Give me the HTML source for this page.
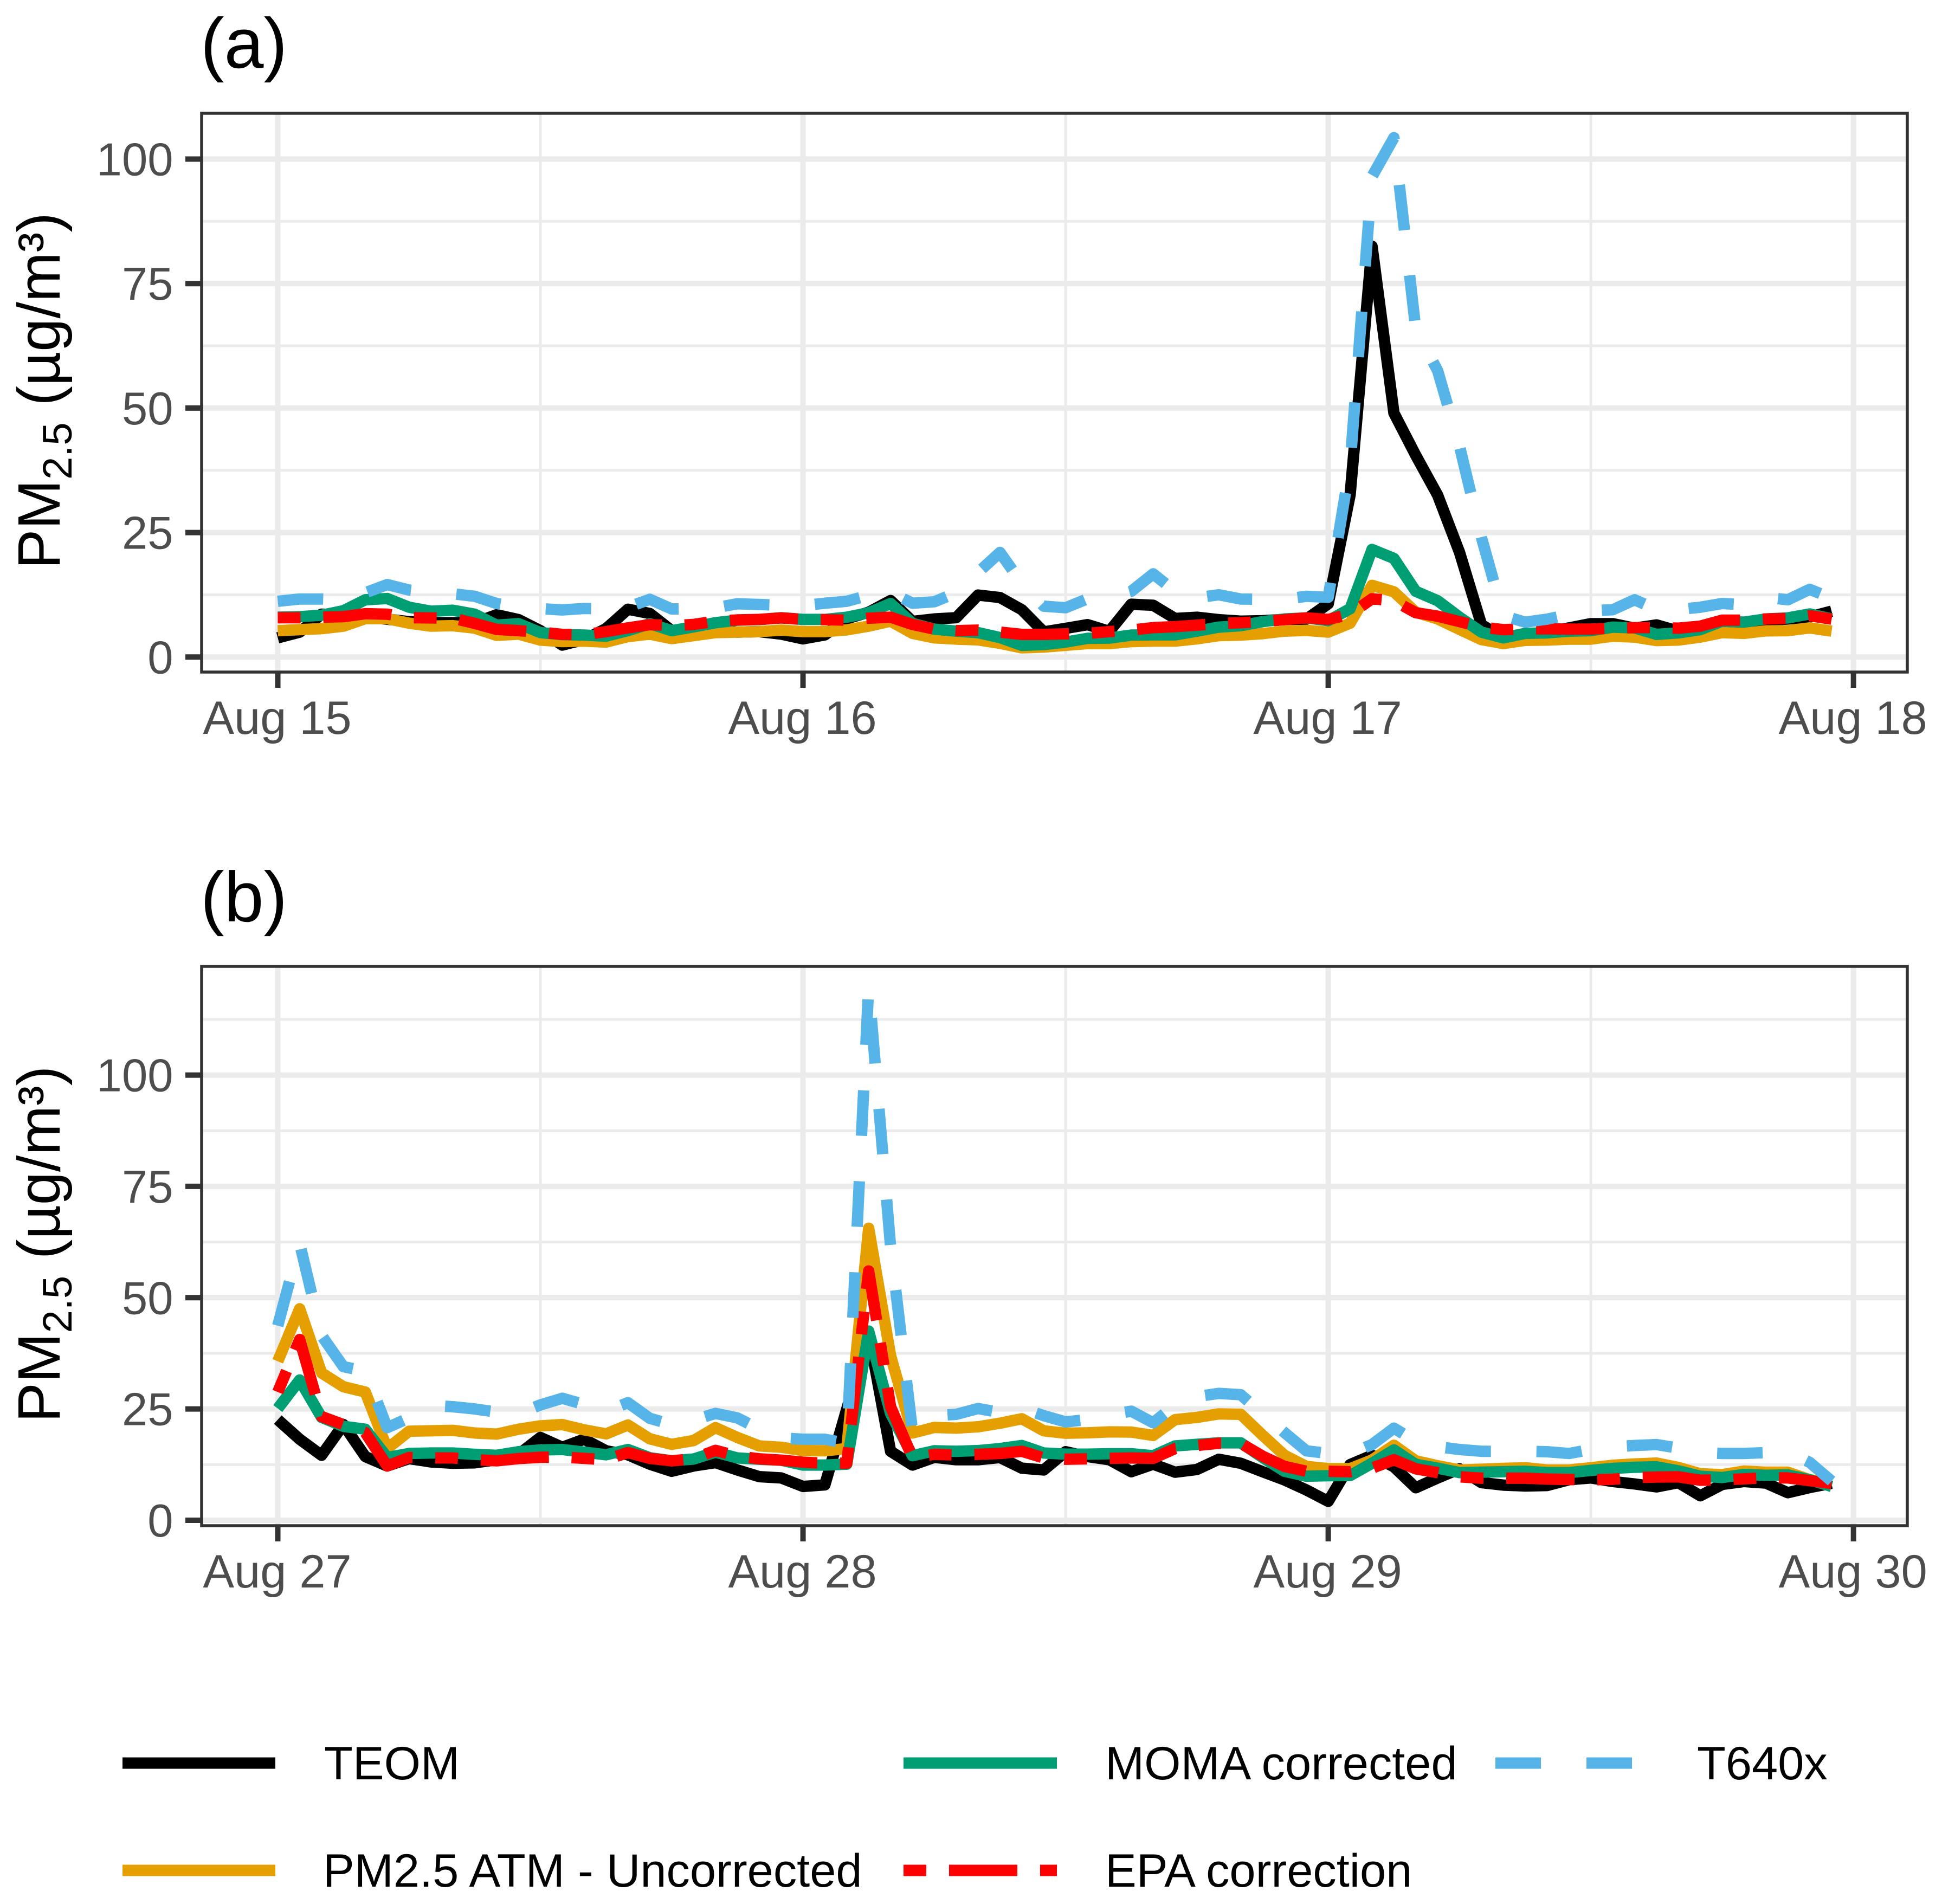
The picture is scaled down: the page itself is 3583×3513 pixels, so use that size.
<!DOCTYPE html>
<html lang="en">
<head>
<meta charset="utf-8">
<title>PM2.5 time series</title>
<style>
html,body{margin:0;padding:0;background:#fff;}
svg{display:block;font-family:"Liberation Sans",sans-serif;}
</style>
</head>
<body>
<svg id="chart" xmlns="http://www.w3.org/2000/svg" width="3583" height="3513" viewBox="0 0 3583 3513">
  <rect x="0" y="0" width="3583" height="3513" fill="#ffffff"/>
  <g id="panel-a"></g>
  <g id="panel-b"></g>

  <text x="370" y="125" font-size="131" fill="#000">(a)</text>
  <text x="370" y="1700" font-size="131" fill="#000">(b)</text>

  <text transform="translate(110,1050) rotate(-90)" font-size="110" fill="#000">PM<tspan font-size="76" dy="22">2.5</tspan><tspan dy="-22"> (µg/m³)</tspan></text>
  <text transform="translate(110,2624.5) rotate(-90)" font-size="110" fill="#000">PM<tspan font-size="76" dy="22">2.5</tspan><tspan dy="-22"> (µg/m³)</tspan></text>

  <g font-size="86.6" fill="#000">
    <line x1="226" x2="508" y1="3253" y2="3253" stroke="#000000" stroke-width="21"/>
    <text x="598" y="3283">TEOM</text>
    <line x1="226" x2="508" y1="3451" y2="3451" stroke="#E69F00" stroke-width="21"/>
    <text x="596" y="3481">PM2.5 ATM - Uncorrected</text>
    <line x1="1667" x2="1950" y1="3253" y2="3253" stroke="#009E73" stroke-width="21"/>
    <text x="2039" y="3283">MOMA corrected</text>
    <line x1="1667" x2="1950" y1="3451" y2="3451" stroke="#FF0000" stroke-width="21" stroke-dasharray="42 42 126 42"/>
    <text x="2039" y="3481">EPA correction</text>
    <line x1="2759" x2="3041" y1="3253" y2="3253" stroke="#56B4E9" stroke-width="21" stroke-dasharray="84 84"/>
    <text x="3131" y="3283">T640x</text>
  </g>
</svg>

<script>
// Shared categories and ticks
const dayLabelsA = ['Aug 15','Aug 16','Aug 17','Aug 18'];
const dayLabelsB = ['Aug 27','Aug 28','Aug 29','Aug 30'];
const majorHours = [0,24,48,72];
const minorHours = [12,36,60];
const yTickValues = [0,25,50,75,100];
const yTickLabels = ['0','25','50','75','100'];
const yMinorA = [12.5,37.5,62.5,87.5];
const yMinorB = [12.5,37.5,62.5,87.5,112.5];

// Panel (a) hourly values, Aug 15 00:00 to Aug 17 23:00
const teomA = [3.85,5.0,8.6,8.5,8.0,7.6,7.1,6.9,6.9,6.9,8.5,7.5,
5.3,2.4,3.5,5.7,9.6,8.75,5.3,5.5,5.3,5.0,5.1,4.6,
3.65,4.45,7.7,9.0,11.35,7.15,7.65,7.9,12.45,11.95,9.5,5.05,
5.75,6.5,5.15,10.6,10.4,7.75,8.0,7.5,7.2,7.3,7.55,7.6,
10.7,32.6,82.5,49,40.5,32.5,21,6.5,3.8,4.2,5.0,5.85,
6.7,6.7,5.8,6.45,5.2,5.6,6.3,6.5,7.3,7.65,8.05,9.2];
const atmA = [5.3,5.5,5.7,6.2,7.7,7.7,6.8,6.2,6.3,5.8,4.35,4.6,
3.4,3.1,3.2,3.0,4.1,4.6,3.7,4.3,4.9,5.0,5.1,5.4,
5.1,5.1,5.45,6.2,7.2,4.75,3.85,3.6,3.45,2.75,1.85,2.0,
2.35,2.7,2.7,3.1,3.2,3.2,3.65,4.3,4.4,4.7,5.2,5.35,
5.0,6.8,14.4,13.1,9.0,7.65,5.55,3.5,2.7,3.35,3.4,3.6,
3.6,4.2,4.0,3.3,3.4,4.0,4.9,4.75,5.25,5.3,5.85,5.2];
const momaA = [8.0,8.1,8.4,9.3,11.5,11.75,10.0,9.2,9.4,8.6,6.4,6.7,
4.9,4.5,4.4,4.2,5.3,6.7,5.3,6.05,6.9,7.4,7.5,7.9,
7.55,7.55,8.0,8.9,10.75,6.75,5.6,5.2,4.9,3.9,2.35,2.5,
3.0,3.75,3.8,4.4,4.45,4.45,5.2,6.0,6.3,7.1,7.65,7.85,
7.3,9.7,21.6,19.8,13.2,11.3,8.0,5.0,3.85,4.75,4.85,5.2,
5.3,6.0,5.85,4.55,4.85,5.5,7.2,7.0,7.65,7.85,8.65,7.65];
const epaA = [7.9,7.9,8.0,8.1,8.7,8.6,7.9,7.85,7.8,6.75,5.55,5.3,
5.0,4.55,4.5,5.1,5.85,6.5,6.3,6.55,7.2,7.45,7.55,7.85,
7.55,7.5,7.4,7.8,8.0,6.55,5.6,5.3,5.4,5.0,4.55,4.55,
4.65,4.75,5.1,5.4,5.9,6.1,6.4,6.75,6.9,7.1,7.5,7.85,
7.55,8.6,11.7,11.3,8.9,8.2,7.1,6.0,5.5,5.65,5.65,5.6,
5.6,5.8,5.9,5.9,5.8,6.2,7.4,7.4,7.65,7.75,8.3,7.6];
const t640A = [11.2,11.65,11.65,11.5,12.9,14.55,13.45,12.9,12.7,12.2,10.75,10.0,
9.7,9.45,9.75,9.7,10.0,11.6,9.65,9.7,9.9,10.7,10.55,10.4,
10.3,10.8,11.2,12.4,13.0,10.8,11.1,12.9,17,21.0,14.8,10.2,
9.9,11.7,12.0,13.2,16.7,13.2,11.9,12.5,11.65,11.6,11.6,12.2,
12.0,38.6,96.5,104.3,65.8,57.5,42.3,24,8.3,7.0,7.6,8.55,
9.3,9.5,11.5,9.55,9.55,10,10.75,10.5,12.0,11.5,13.6,11.8];

// Panel (b) hourly values, Aug 27 00:00 to Aug 29 23:00
const teomB = [22.6,18.2,14.6,21.5,14.3,12.2,13.85,13.1,12.8,12.9,13.6,14.8,
18.6,16.4,18.2,15.6,14.7,12.6,11.0,12.2,12.95,11.3,9.8,9.5,
7.6,7.95,25,42,15.5,12.4,14.15,13.6,13.6,14.1,11.7,11.3,
15.4,14.3,13.6,10.9,12.6,10.8,11.4,13.7,12.8,10.9,9.05,6.8,
4.25,12.5,14.6,12.0,7.3,9.5,11.55,8.45,7.9,7.7,7.8,9.1,
9.5,8.7,8.15,7.5,8.45,5.5,8.05,8.7,8.35,6.2,7.35,8.3];
const atmB = [35.7,47.5,33.1,30.0,28.8,16.1,20.0,20.1,20.2,19.6,19.35,20.45,
21.2,21.5,20.3,19.4,21.4,18.3,17.05,17.9,20.8,18.6,16.7,16.4,
15.65,15.6,16.1,65.6,37,19.6,20.85,20.7,21.0,21.8,22.8,20.1,
19.55,19.65,19.85,19.8,19.05,22.6,23.1,23.9,23.8,19.1,14.6,12.1,
11.6,11.6,13.55,16.85,13.35,12.25,11.3,11.45,11.65,11.8,11.3,11.3,
11.8,12.35,12.65,12.85,11.85,10.45,10.25,11.05,10.8,10.8,9.1,8.3];
const momaB = [25.1,31.5,23.1,21.1,20.45,14.1,15.0,15.1,15.1,14.8,14.6,15.4,
15.8,15.9,15.3,14.7,15.9,14.05,13.35,13.75,15.3,14.0,13.7,13.5,
12.4,12.4,12.6,42.5,24,14.5,15.6,15.5,15.65,16.1,16.8,15.1,
14.85,14.85,14.95,14.95,14.5,16.7,17.05,17.4,17.4,14.1,11.0,9.9,
10.0,10.05,12.8,15.8,12.55,11.7,10.7,10.8,10.9,11.0,10.7,10.7,
11.2,11.65,11.9,12.0,11.1,9.9,9.6,10.3,10.1,10.2,9.1,7.6];
const epaB = [28.8,40.6,23.3,21.5,19.7,12.2,14.1,14.0,14.0,13.6,13.35,13.85,
14.15,14.2,13.9,13.6,15.2,13.9,13.35,13.8,15.7,14.4,13.8,13.5,
13.05,12.8,12.8,56,25.5,14.1,14.8,14.65,14.8,15.0,15.5,14.0,
13.7,13.8,13.9,14.0,13.9,16.1,16.8,17.3,17.3,14.4,12.1,11.0,
11.0,10.9,11.7,13.6,11.55,10.7,9.75,9.45,9.45,9.45,9.25,9.15,
9.05,9.2,9.6,9.7,9.75,9.0,9.05,9.3,9.55,9.5,8.9,8.25];
const t640B = [43.7,62.2,41.5,34.5,33.5,20.8,23,25.8,25.5,25.0,24.3,24,
25.9,27.4,26,24.5,26.4,22.9,21.5,22.5,24,23,20.5,18.5,
18.2,18.2,17.3,120,61.5,20,23.5,23.8,25.1,24.2,25.2,23.5,
22.1,22.6,23.7,24.5,21.9,25.9,27.8,28.5,28.2,23.9,19.7,15.6,
15,15,17,20.7,17.7,16.5,15.9,15.5,15.5,15.5,15.4,15,
15.9,16.5,16.8,17,16.2,15.2,15,15,15.2,15.4,13,8.8];

const NS = 'http://www.w3.org/2000/svg';
const PANEL_LEFT = 372;
const PANEL_RIGHT = 3519;
const HOUR_MIN = -3.48;
const HOUR_MAX = 74.46;

function make(parent, tag, attrs) {
  const el = document.createElementNS(NS, tag);
  for (const k in attrs) el.setAttribute(k, attrs[k]);
  parent.appendChild(el);
  return el;
}

function xScale(h) {
  return PANEL_LEFT + (h - HOUR_MIN) / (HOUR_MAX - HOUR_MIN) * (PANEL_RIGHT - PANEL_LEFT);
}

function makeYScale(top, bottom, vMin, vMax) {
  return function (v) {
    return bottom - (v - vMin) / (vMax - vMin) * (bottom - top);
  };
}

function drawPanel(opts) {
  const g = document.getElementById(opts.id);
  const y = makeYScale(opts.top, opts.bottom, opts.vMin, opts.vMax);

  opts.yMinor.forEach(function (v) {
    const el = make(g, 'line', {x1: PANEL_LEFT, x2: PANEL_RIGHT, y1: y(v), y2: y(v), stroke: '#EBEBEB', 'stroke-width': 5});
    
    
  });
  minorHours.forEach(function (h) {
    const el = make(g, 'line', {x1: xScale(h), x2: xScale(h), y1: opts.top, y2: opts.bottom, stroke: '#EBEBEB', 'stroke-width': 5});
    
    
  });
  yTickValues.forEach(function (v) {
    const el = make(g, 'line', {x1: PANEL_LEFT, x2: PANEL_RIGHT, y1: y(v), y2: y(v), stroke: '#EBEBEB', 'stroke-width': 10});
    
    
  });
  majorHours.forEach(function (h) {
    const el = make(g, 'line', {x1: xScale(h), x2: xScale(h), y1: opts.top, y2: opts.bottom, stroke: '#EBEBEB', 'stroke-width': 10});
    
    
  });

  opts.series.forEach(function (s) {
    const pts = s.values.map(function (v, i) {
      return xScale(i).toFixed(1) + ',' + y(v).toFixed(1);
    }).join(' ');
    const el = make(g, 'polyline', {
      points: pts, fill: 'none', stroke: s.color, 'stroke-width': 21,
      'stroke-linejoin': 'round', 'stroke-linecap': 'butt',
      'stroke-dasharray': s.dash
    });
    
    
  });

  const border = make(g, 'rect', {
    x: PANEL_LEFT, y: opts.top, width: PANEL_RIGHT - PANEL_LEFT, height: opts.bottom - opts.top,
    fill: 'none', stroke: '#333333', 'stroke-width': 5.5
  });
  
  

  yTickValues.forEach(function (v, i) {
    const tick = make(g, 'line', {x1: 342, x2: PANEL_LEFT, y1: y(v), y2: y(v), stroke: '#333333', 'stroke-width': 10});
    
    
    const label = make(g, 'text', {x: 319.5, y: y(v) + 30, 'text-anchor': 'end', 'font-size': 85, fill: '#4D4D4D'});
    label.textContent = yTickLabels[i];
    
    
  });

  majorHours.forEach(function (h, i) {
    const tick = make(g, 'line', {x1: xScale(h), x2: xScale(h), y1: opts.bottom, y2: opts.bottom + 29, stroke: '#333333', 'stroke-width': 10});
    
    
    const label = make(g, 'text', {x: xScale(h) - 1, y: opts.bottom + 114, 'text-anchor': 'middle', 'font-size': 86.5, fill: '#4D4D4D'});
    label.textContent = opts.dayLabels[i];
    
    
  });
}

drawPanel({
  id: 'panel-a', top: 209, bottom: 1240, vMin: -3.02, vMax: 109.2,
  yMinor: yMinorA, dayLabels: dayLabelsA,
  series: [
    {name: 'line-teom-a', values: teomA, color: '#000000', dash: 'none'},
    {name: 'line-atm-a', values: atmA, color: '#E69F00', dash: 'none'},
    {name: 'line-moma-a', values: momaA, color: '#009E73', dash: 'none'},
    {name: 'line-epa-a', values: epaA, color: '#FF0000', dash: '42 42 126 42'},
    {name: 'line-t640x-a', values: t640A, color: '#56B4E9', dash: '84 84'}
  ]
});

drawPanel({
  id: 'panel-b', top: 1783, bottom: 2815, vMin: -1.22, vMax: 124.42,
  yMinor: yMinorB, dayLabels: dayLabelsB,
  series: [
    {name: 'line-teom-b', values: teomB, color: '#000000', dash: 'none'},
    {name: 'line-atm-b', values: atmB, color: '#E69F00', dash: 'none'},
    {name: 'line-moma-b', values: momaB, color: '#009E73', dash: 'none'},
    {name: 'line-epa-b', values: epaB, color: '#FF0000', dash: '42 42 126 42'},
    {name: 'line-t640x-b', values: t640B, color: '#56B4E9', dash: '84 84'}
  ]
});
</script>
</body>
</html>
